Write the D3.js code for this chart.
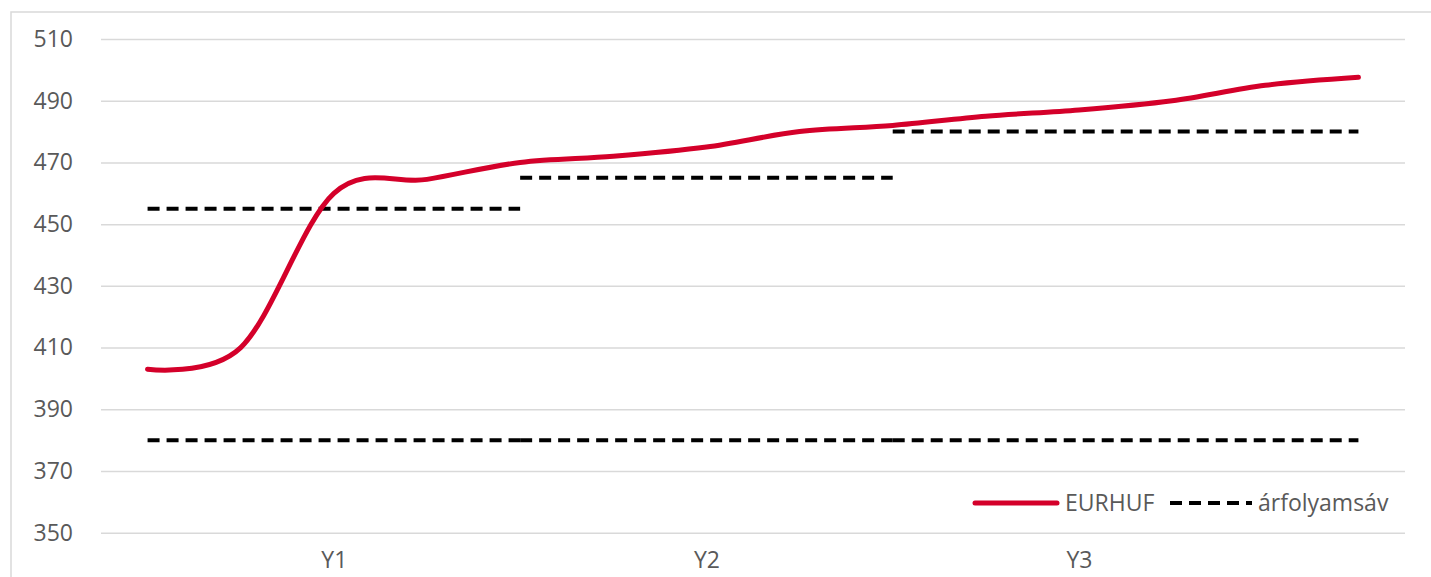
<!DOCTYPE html>
<html>
<head>
<meta charset="utf-8">
<script src="https://cdn.jsdelivr.net/npm/d3@7"></script>
<style>
    body { margin: 0; background: #fff; }
    #chart-area { width: 1431px; height: 577px; overflow: hidden; }
    text { font-family: "Open Sans", sans-serif; }
</style>
</head>
<body>
<div id="chart-area"></div>
<script>

// periods on the x axis (only some of them carry a label)
let periods = ["1", "2", "3", "4", "5", "6", "7", "8", "9", "10", "11", "12", "13", "14"];
let periodLabels = {"3": "Y1", "7": "Y2", "11": "Y3"};

// EUR/HUF exchange rate
let eurhuf = [403, 410, 460, 464.5, 470, 472, 475, 480, 482, 485, 487, 490, 495, 497.6];

// exchange rate band (árfolyamsáv), one segment per year
let bandStart = ["1", "5", "9"];
let bandEnd = ["5", "9", "14"];
let bandUpper = [455, 465, 480];
let bandLower = [380, 380, 380];

// y axis ticks
let yTicks = [350, 370, 390, 410, 430, 450, 470, 490, 510];


class rateChart {

    constructor(parentElement) {
        this.parentElement = parentElement;
        this.initVis();
    }

    initVis() {
        let vis = this;

        vis.svg = d3.select("#" + vis.parentElement).append("svg")
            .attr("width", 1431)
            .attr("height", 577);

        // light frame round the chart
        vis.svg.append("rect")
            .attr("x", 11)
            .attr("y", 12)
            .attr("width", 1440)
            .attr("height", 600)
            .attr("fill", "none")
            .attr("stroke", "#d9d9d9")
            .attr("stroke-width", 1.5);

        vis.left = 101;
        vis.right = 1405;

        vis.x = d3.scalePoint()
            .domain(periods)
            .range([vis.left, vis.right])
            .padding(0.5);

        vis.y = d3.scaleLinear()
            .domain([350, 510])
            .range([532.7, 39]);

        vis.yAxis = d3.axisLeft(vis.y)
            .tickValues(yTicks)
            .tickSizeInner(-(vis.right - vis.left))
            .tickSizeOuter(0)
            .tickPadding(28);

        vis.xAxis = d3.axisBottom(vis.x)
            .tickSize(0)
            .tickPadding(19)
            .tickFormat(d => periodLabels[d] || "");

        vis.updateVis();
    }

    updateVis() {
        let vis = this;

        // gridlines + y labels
        let yg = vis.svg.append("g")
            .attr("class", "y-axis axis")
            .attr("transform", "translate(" + vis.left + ",0)")
            .call(vis.yAxis);
        yg.select(".domain").remove();
        yg.selectAll(".tick line")
            .attr("stroke", "#d9d9d9")
            .attr("stroke-width", 1.5);
        yg.selectAll(".tick text")
            .attr("fill", "#595959")
            .style("font-size", "23px");

        // x labels
        let xg = vis.svg.append("g")
            .attr("class", "x-axis axis")
            .attr("transform", "translate(0," + vis.y(350) + ")")
            .call(vis.xAxis);
        xg.select(".domain").remove();
        xg.selectAll(".tick text")
            .attr("fill", "#595959")
            .style("font-size", "23px");

        // band segments
        let segments = [];
        bandStart.forEach(function(s, i) {
            segments.push([{p: s, v: bandUpper[i]}, {p: bandEnd[i], v: bandUpper[i]}]);
            segments.push([{p: s, v: bandLower[i]}, {p: bandEnd[i], v: bandLower[i]}]);
        });

        let segLine = d3.line()
            .x(d => vis.x(d.p))
            .y(d => vis.y(d.v));

        vis.svg.selectAll(".band")
            .data(segments)
            .enter().append("path")
            .attr("class", "band")
            .attr("d", segLine)
            .attr("fill", "none")
            .attr("stroke", "#000")
            .attr("stroke-width", 4)
            .attr("stroke-dasharray", "12,7");

        // EURHUF smoothed line
        let rateLine = d3.line()
            .x((d, i) => vis.x(periods[i]))
            .y(d => vis.y(d))
            .curve(d3.curveCardinal.tension(0));

        vis.svg.append("path")
            .datum(eurhuf)
            .attr("d", rateLine)
            .attr("fill", "none")
            .attr("stroke", "#d4002a")
            .attr("stroke-width", 5)
            .attr("stroke-linecap", "round");

        // legend
        let legend = vis.svg.append("g").attr("class", "legend");
        let ly = 503;

        legend.append("line")
            .attr("x1", 975).attr("x2", 1057)
            .attr("y1", ly).attr("y2", ly)
            .attr("stroke", "#d4002a")
            .attr("stroke-width", 5)
            .attr("stroke-linecap", "round");
        legend.append("text")
            .attr("x", 1065).attr("y", ly)
            .attr("dy", "0.35em")
            .attr("fill", "#595959")
            .style("font-size", "23px")
            .text("EURHUF");

        legend.append("line")
            .attr("x1", 1170).attr("x2", 1252)
            .attr("y1", ly).attr("y2", ly)
            .attr("stroke", "#000")
            .attr("stroke-width", 4)
            .attr("stroke-dasharray", "12,7");
        legend.append("text")
            .attr("x", 1258).attr("y", ly)
            .attr("dy", "0.35em")
            .attr("fill", "#595959")
            .style("font-size", "23px")
            .text("árfolyamsáv");
    }
}

new rateChart("chart-area");

</script>
</body>
</html>
